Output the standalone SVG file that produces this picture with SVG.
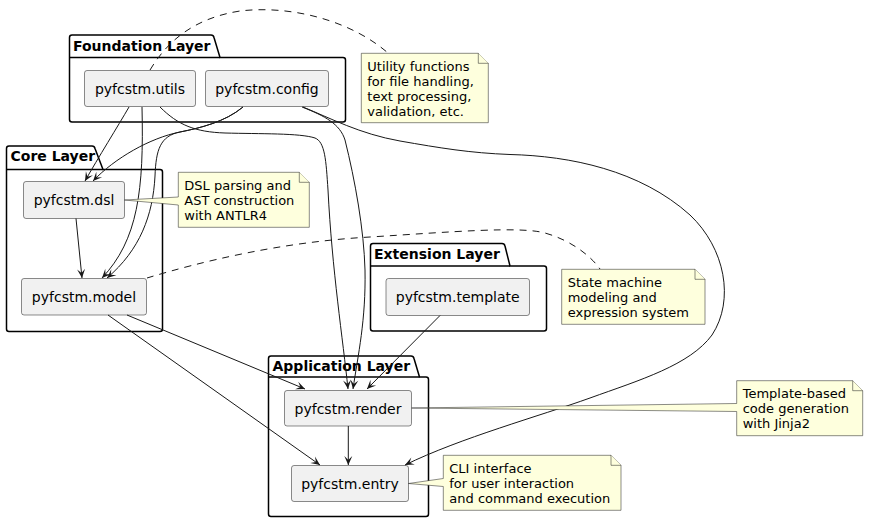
<svg xmlns="http://www.w3.org/2000/svg" width="869" height="523" viewBox="0 0 869 523">
<style>
.pkg{fill:none;stroke:#000;stroke-width:1.5}
.pt{font-family:"DejaVu Sans",sans-serif;font-size:14px;font-weight:bold;fill:#000}
.node{fill:#F1F1F1;stroke:#181818;stroke-width:0.5}
.nt{font-family:"DejaVu Sans",sans-serif;font-size:14px;fill:#000;text-anchor:middle}
.note{fill:#FEFFDD;stroke:#181818;stroke-width:0.5}
.ntx{font-family:"DejaVu Sans",sans-serif;font-size:13px;fill:#000}
.e{fill:none;stroke:#181818;stroke-width:1}
.d{fill:none;stroke:#181818;stroke-width:1;stroke-dasharray:7,6}
</style>
<defs>
<marker id="ah" viewBox="-10 -5 11 10" refX="0" refY="0" markerWidth="11" markerHeight="10" markerUnits="userSpaceOnUse" orient="auto">
<path d="M0,0 L-9,-4 L-5,0 L-9,4 Z" fill="#181818"/>
</marker>
</defs>

<g id="pkg-foundation">
<path class="pkg" d="M69.5,37.5 Q69.5,35 72,35 L211,35 Q213.5,35 214,37.5 L220,57.5 L343,57.5 Q345.5,57.5 345.5,60 L345.5,119.5 Q345.5,122 343,122 L72,122 Q69.5,122 69.5,119.5 Z"/>
<line class="pkg" x1="69.5" y1="57.5" x2="220" y2="57.5"/>
<text class="pt" x="73" y="50.5">Foundation Layer</text>
</g>
<g id="pkg-core">
<path class="pkg" d="M6.5,148.5 Q6.5,146 9,146 L92,146 Q94.5,146 95,148.5 L103,169.5 L160,169.5 Q162.5,169.5 162.5,172 L162.5,329 Q162.5,331.5 160,331.5 L9,331.5 Q6.5,331.5 6.5,329 Z"/>
<line class="pkg" x1="6.5" y1="169.5" x2="103" y2="169.5"/>
<text class="pt" x="10.5" y="161">Core Layer</text>
</g>
<g id="pkg-extension">
<path class="pkg" d="M370.5,246 Q370.5,243.5 373,243.5 L502,243.5 Q504.5,243.5 505,246 L510,266 L544,266 Q546.5,266 546.5,268.5 L546.5,328.5 Q546.5,331 544,331 L373,331 Q370.5,331 370.5,328.5 Z"/>
<line class="pkg" x1="370.5" y1="266" x2="510" y2="266"/>
<text class="pt" x="374" y="258.5">Extension Layer</text>
</g>
<g id="pkg-application">
<path class="pkg" d="M268.5,358.5 Q268.5,356 271,356 L411,356 Q413.5,356 414,358.5 L419.5,377 L426,377 Q428.5,377 428.5,379.5 L428.5,514 Q428.5,516.5 426,516.5 L271,516.5 Q268.5,516.5 268.5,514 Z"/>
<line class="pkg" x1="268.5" y1="377" x2="419.5" y2="377"/>
<text class="pt" x="272.5" y="371">Application Layer</text>
</g>

<g id="node-utils"><rect class="node" x="84.5" y="70.5" width="111" height="36" rx="2.5"/><text class="nt" x="140" y="93.5">pyfcstm.utils</text></g>
<g id="node-config"><rect class="node" x="205.5" y="70.5" width="123" height="36" rx="2.5"/><text class="nt" x="267" y="93.5">pyfcstm.config</text></g>
<g id="node-dsl"><rect class="node" x="23.5" y="181.5" width="101" height="37" rx="2.5"/><text class="nt" x="74" y="205">pyfcstm.dsl</text></g>
<g id="node-model"><rect class="node" x="21.5" y="278.5" width="125" height="36.5" rx="2.5"/><text class="nt" x="84" y="301.5">pyfcstm.model</text></g>
<g id="node-template"><rect class="node" x="386" y="278.5" width="143.5" height="37" rx="2.5"/><text class="nt" x="457.7" y="302">pyfcstm.template</text></g>
<g id="node-render"><rect class="node" x="284.5" y="390.5" width="127" height="35.5" rx="2.5"/><text class="nt" x="348" y="413.5">pyfcstm.render</text></g>
<g id="node-entry"><rect class="node" x="291.5" y="465.5" width="117" height="36" rx="2.5"/><text class="nt" x="350" y="488.5">pyfcstm.entry</text></g>

<g id="connectors">
<path class="e" marker-end="url(#ah)" d="M129,107 C118,126 98,158 85,181"/>
<path class="e" marker-end="url(#ah)" d="M243,107 C225,122 200,128 180,132 C150,138 115,158 93,181"/>
<path class="e" marker-end="url(#ah)" d="M243,107 C225,122 200,128 180,132 C160,136 156,150 155,176 C153,215 140,250 107,278"/>
<path class="e" marker-end="url(#ah)" d="M142,107 C144,190 138,240 102,278"/>
<path class="e" marker-end="url(#ah)" d="M160,107 C178,125 195,132 225,133 C260,134 300,133 315,138 C325,142 326,160 328,190 C332,270 343,340 348,389"/>
<path class="e" marker-end="url(#ah)" d="M302,107 C325,116 340,124 345,140 C355,180 364,230 365,270 C366,320 358,355 353,389"/>
<path class="e" marker-end="url(#ah)" d="M303,107 C330,118 360,134 400,141 C440,148 470,153 510,154.5 C570,156 640,170 690,215 C725,248 735,300 712,335 C690,365 640,380 590,398 C540,416 460,438 405,465"/>
<path class="e" marker-end="url(#ah)" d="M440,315.5 L367,389"/>
<path class="e" marker-end="url(#ah)" d="M127,315 L305,389"/>
<path class="e" marker-end="url(#ah)" d="M108,315 L320,465"/>
<path class="e" marker-end="url(#ah)" d="M76,218.5 L82,278"/>
<path class="e" marker-end="url(#ah)" d="M348.3,426 L348.3,465"/>
<path class="d" d="M150,70 C168,40 195,18 240,11 C290,5 350,20 388,53"/>
<path class="d" d="M147,278 C200,262 280,242 370,237 C450,232 520,226 545,233 C570,240 590,255 600,269"/>
</g>

<g id="note-utils">
<path class="note" d="M361.3,53.3 L478.3,53.3 L488.3,63.3 L488.3,122.7 L361.3,122.7 Z"/>
<path class="note" d="M478.3,53.3 L478.3,63.3 L488.3,63.3"/>
<text class="ntx" x="367.3" y="70.5">Utility functions</text>
<text class="ntx" x="367.3" y="85.6">for file handling,</text>
<text class="ntx" x="367.3" y="100.7">text processing,</text>
<text class="ntx" x="367.3" y="115.8">validation, etc.</text>
</g>
<g id="note-dsl">
<path class="note" d="M178.3,172.3 L299.3,172.3 L309.3,182.3 L309.3,227.3 L178.3,227.3 L178.3,205 L124.5,200 L178.3,197 Z"/>
<path class="note" d="M299.3,172.3 L299.3,182.3 L309.3,182.3"/>
<text class="ntx" x="184.3" y="189.5">DSL parsing and</text>
<text class="ntx" x="184.3" y="204.6">AST construction</text>
<text class="ntx" x="184.3" y="219.7">with ANTLR4</text>
</g>
<g id="note-model">
<path class="note" d="M561.7,269.3 L695,269.3 L705,279.3 L705,324.3 L561.7,324.3 Z"/>
<path class="note" d="M695,269.3 L695,279.3 L705,279.3"/>
<text class="ntx" x="567.7" y="286.5">State machine</text>
<text class="ntx" x="567.7" y="301.6">modeling and</text>
<text class="ntx" x="567.7" y="316.7">expression system</text>
</g>
<g id="note-render">
<path class="note" d="M736.7,380.7 L852.7,380.7 L862.7,390.7 L862.7,435.7 L736.7,435.7 L736.7,411.5 L411.7,408 L736.7,403.5 Z"/>
<path class="note" d="M852.7,380.7 L852.7,390.7 L862.7,390.7"/>
<text class="ntx" x="742.7" y="397.9">Template-based</text>
<text class="ntx" x="742.7" y="413">code generation</text>
<text class="ntx" x="742.7" y="428.1">with Jinja2</text>
</g>
<g id="note-entry">
<path class="note" d="M443.3,455.3 L611,455.3 L621,465.3 L621,510.3 L443.3,510.3 L443.3,486.5 L408.5,483.5 L443.3,478.5 Z"/>
<path class="note" d="M611,455.3 L611,465.3 L621,465.3"/>
<text class="ntx" x="449.3" y="472.5">CLI interface</text>
<text class="ntx" x="449.3" y="487.6">for user interaction</text>
<text class="ntx" x="449.3" y="502.7">and command execution</text>
</g>
</svg>
